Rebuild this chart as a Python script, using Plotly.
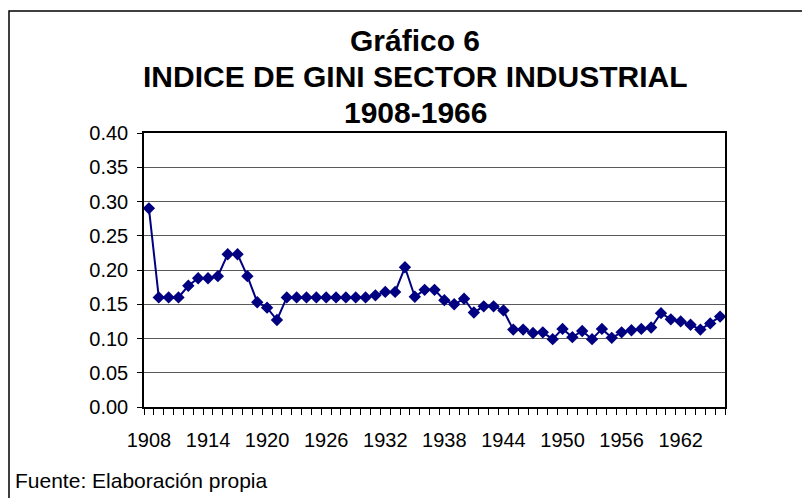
import plotly.graph_objects as go

# ---- data ----
years = list(range(1908, 1967))
gini = [0.290, 0.160, 0.160, 0.160, 0.177, 0.188, 0.188, 0.191, 0.223, 0.223,
        0.191, 0.153, 0.145, 0.127, 0.160, 0.160, 0.160, 0.160, 0.160, 0.160,
        0.160, 0.160, 0.160, 0.163, 0.168, 0.168, 0.204, 0.161, 0.171, 0.171,
        0.156, 0.150, 0.158, 0.138, 0.147, 0.147, 0.141, 0.113, 0.113, 0.108,
        0.109, 0.099, 0.114, 0.102, 0.111, 0.099, 0.114, 0.101, 0.109, 0.112,
        0.114, 0.116, 0.137, 0.128, 0.125, 0.120, 0.113, 0.122, 0.132]
x_tick_years = list(range(1908, 1966, 6))
x_tick_labels = [str(y) for y in x_tick_years]
y_ticks = [0.00, 0.05, 0.10, 0.15, 0.20, 0.25, 0.30, 0.35, 0.40]
title_lines = ["Gráfico 6", "INDICE DE GINI SECTOR INDUSTRIAL", "1908-1966"]
source_text = "Fuente: Elaboración propia"

# ---- layout geometry (pixels) ----
W, H = 802, 498
L, R, T, B = 144, 77, 133, 91
PW, PH = W - L - R, H - T - B

def px_x(px):
    return (px - L) / PW

def px_y(py):
    return (H - B - py) / PH

FONT = "Arial, Liberation Sans, sans-serif"
NAVY = "#000080"

fig = go.Figure()
fig.add_trace(go.Scatter(
    x=years, y=gini, mode="lines+markers",
    line=dict(color=NAVY, width=2),
    marker=dict(symbol="diamond", size=9.5, color=NAVY, line=dict(width=0)),
    showlegend=False, cliponaxis=False,
))

title_centers = [40, 76.5, 112.5]
annotations = []
for txt, cy in zip(title_lines, title_centers):
    annotations.append(dict(
        text=f"<b>{txt}</b>", xref="paper", yref="paper",
        x=px_x(415), y=px_y(cy), xanchor="center", yanchor="middle",
        showarrow=False, font=dict(family=FONT, size=30, color="black")))
annotations.append(dict(
    text=source_text, xref="paper", yref="paper",
    x=px_x(13), y=px_y(480.5), xanchor="left", yanchor="middle",
    showarrow=False, font=dict(family=FONT, size=21, color="black")))

fig.update_layout(
    width=W, height=H,
    margin=dict(l=L, r=R, t=T, b=B, pad=0),
    paper_bgcolor="white", plot_bgcolor="white",
    font=dict(family=FONT, size=20, color="black"),
    annotations=annotations,
    shapes=[dict(type="rect", xref="paper", yref="paper",
                 x0=px_x(9), x1=px_x(830), y0=px_y(540), y1=px_y(11),
                 line=dict(color="black", width=1.5), layer="below")],
)

fig.update_xaxes(
    range=[1907.5, 1966.5], tickmode="array",
    tickvals=x_tick_years, ticktext=x_tick_labels,
    ticks="", showgrid=False, zeroline=False,
    showline=True, linecolor="black", linewidth=1.5, mirror=True,
    ticklabelstandoff=14,
    minor=dict(tick0=1907.5, dtick=1, ticks="outside", ticklen=6,
               tickcolor="black", tickwidth=1, showgrid=False),
    tickfont=dict(family=FONT, size=20, color="black"),
)
fig.update_yaxes(
    range=[0, 0.4], tickmode="array", tickvals=y_ticks,
    tickformat=".2f", ticks="outside", ticklen=5, tickcolor="black",
    showgrid=True, gridcolor="#5a5a5a", gridwidth=1, zeroline=False,
    showline=True, linecolor="black", linewidth=1.5, mirror=True,
    ticklabelstandoff=5,
    tickfont=dict(family=FONT, size=20, color="black"),
)

fig.write_html(
    "out.html",
    config={"displayModeBar": False},
    post_script="document.body.style.margin='0';document.body.style.overflow='hidden';",
)
